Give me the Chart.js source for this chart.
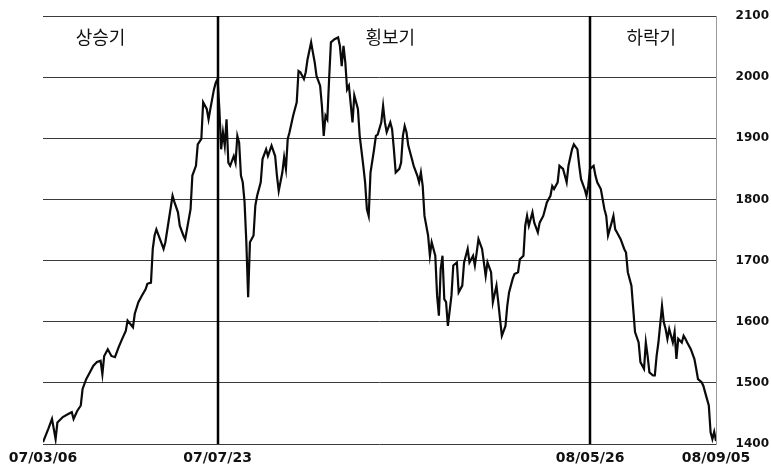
<!DOCTYPE html>
<html>
<head>
<meta charset="utf-8">
<script src="https://cdn.jsdelivr.net/npm/chart.js@4.4.1/dist/chart.umd.min.js"></script>
<style>
  body { margin: 0; background: #fff; }
</style>
</head>
<body>
<canvas id="kospi" width="771" height="472"></canvas>
<script>
// trading day offsets from 07/03/06 and the index level
const tradingDay = [0,3,5,7,8,11,14,16,17,19,21,22,24,26,28,30,32,33,34,36,38,40,42,44,46,47,50,51,53,55,57,58,60,61,62,63,65,67,68,70,72,73,75,76,78,79,80,82,83,85,86,88,89,91,92,93,95,96,97,98,99,100,101,102,103,104,106,107,108,109,110,111,112,113,114,115,117,118,119,121,122,124,125,127,129,130,131,133,134,135,136,137,139,141,142,143,145,146,147,149,150,151,152,154,155,156,157,158,159,160,162,164,165,166,167,168,169,170,172,173,175,176,178,179,180,181,182,184,185,186,188,189,190,191,193,194,195,196,198,199,200,201,202,203,205,206,208,209,210,211,212,214,215,216,218,219,220,221,222,223,224,225,227,228,230,231,233,234,235,236,237,239,240,241,242,244,245,246,247,249,250,252,253,254,255,257,258,259,261,262,264,265,267,268,269,270,272,273,275,276,278,279,280,282,283,284,286,287,289,290,291,292,294,295,297,298,299,301,302,303,304,306,307,308,310,312,313,314,316,317,318,319,321,323,324,325,327,328,329,331,332,334,335,336,337,339,340,341,342,344,345,346,347,348,350,351,352,353,355,356,357,358,360,362,363,364,366,367,368,370,371,372,373,374];
const closeValue = [1403,1425,1441,1408,1435,1444,1449,1452,1441,1454,1463,1490,1506,1517,1528,1534,1536,1514,1544,1555,1544,1542,1558,1572,1585,1602,1591,1613,1632,1643,1653,1662,1664,1719,1741,1751,1735,1719,1730,1768,1806,1796,1779,1757,1741,1735,1751,1784,1839,1855,1890,1899,1959,1948,1931,1948,1980,1991,1997,1948,1882,1910,1888,1931,1860,1855,1871,1860,1904,1893,1839,1828,1796,1730,1640,1730,1741,1790,1806,1828,1866,1882,1871,1888,1871,1839,1814,1844,1869,1850,1899,1910,1937,1959,2010,2008,1997,2008,2029,2057,2040,2024,2002,1986,1953,1904,1937,1931,1997,2057,2062,2065,2051,2018,2051,2024,1980,1986,1926,1970,1948,1904,1855,1828,1784,1773,1844,1882,1904,1906,1926,1953,1926,1910,1926,1915,1882,1844,1850,1860,1904,1920,1910,1888,1866,1855,1839,1828,1844,1822,1773,1741,1708,1730,1708,1643,1610,1686,1708,1637,1632,1593,1643,1692,1697,1648,1659,1697,1708,1719,1697,1708,1692,1713,1735,1719,1697,1675,1697,1681,1632,1659,1632,1604,1577,1593,1626,1648,1670,1678,1681,1702,1708,1757,1773,1757,1779,1762,1746,1762,1773,1784,1795,1806,1822,1817,1828,1855,1850,1839,1828,1855,1882,1890,1882,1855,1833,1817,1806,1822,1850,1855,1839,1828,1817,1784,1773,1741,1762,1773,1751,1746,1735,1719,1713,1681,1659,1621,1583,1566,1534,1523,1566,1544,1517,1512,1512,1544,1566,1626,1599,1588,1572,1588,1566,1583,1539,1572,1566,1577,1572,1566,1555,1539,1523,1506,1501,1495,1484,1463,1419,1408,1420,1405];

const tickDays = [0, 97, 304, 374];
const tickLabels = ['07/03/06', '07/07/23', '08/05/26', '08/09/05'];

// phase boundaries and names
const phaseBreaks = [97, 304];
const phaseNames = ['상승기', '횡보기', '하락기'];
const phaseLabelDay = [32, 193, 338];
const phaseLabelLevel = 2066;

const phasePlugin = {
  id: 'phases',
  afterDatasetsDraw(chart) {
    const { ctx, chartArea, scales } = chart;
    ctx.save();
    ctx.strokeStyle = '#000';
    ctx.lineWidth = 2.5;
    phaseBreaks.forEach(d => {
      const px = Math.round(scales.x.getPixelForValue(d));
      ctx.beginPath();
      ctx.moveTo(px, chartArea.top);
      ctx.lineTo(px, chartArea.bottom);
      ctx.stroke();
    });
    ctx.font = '18px "Noto Sans CJK KR"';
    ctx.fillStyle = '#111';
    ctx.textAlign = 'center';
    ctx.textBaseline = 'middle';
    phaseNames.forEach((name, i) => {
      ctx.fillText(name, scales.x.getPixelForValue(phaseLabelDay[i]), scales.y.getPixelForValue(phaseLabelLevel));
    });
    ctx.restore();
  }
};

new Chart(document.getElementById('kospi'), {
  type: 'line',
  data: {
    datasets: [{
      data: tradingDay.map((d, i) => ({ x: d, y: closeValue[i] })),
      borderColor: '#0a0a0a',
      borderWidth: 2.2,
      pointRadius: 0,
      tension: 0,
      fill: false
    }]
  },
  options: {
    responsive: false,
    animation: false,
    devicePixelRatio: 1,
    layout: { padding: { left: 43, top: 16, right: 2, bottom: 0 } },
    plugins: {
      legend: { display: false },
      tooltip: { enabled: false }
    },
    scales: {
      x: {
        type: 'linear',
        min: 0,
        max: 374,
        grid: { display: false, drawTicks: false },
        border: { display: false },
        afterBuildTicks: scale => {
          scale.ticks = tickDays.map(v => ({ value: v }));
        },
        afterFit: scale => { scale.height = 28; },
        ticks: {
          autoSkip: false,
          maxRotation: 0,
          minRotation: 0,
          padding: 6,
          color: '#111',
          font: { family: 'DejaVu Sans', size: 14, weight: 'bold' },
          callback: value => tickLabels[tickDays.indexOf(value)]
        }
      },
      y: {
        position: 'right',
        min: 1400,
        max: 2100,
        grid: { color: '#3a3a3a', lineWidth: 1, drawTicks: false },
        border: { display: true, color: '#999', width: 1 },
        afterFit: scale => { scale.width = 53; },
        ticks: {
          stepSize: 100,
          padding: 0,
          crossAlign: 'far',
          color: '#111',
          font: { family: 'DejaVu Sans', size: 12, weight: 'bold' },
          callback: value => String(value)
        }
      }
    }
  },
  plugins: [phasePlugin]
});
</script>
</body>
</html>
